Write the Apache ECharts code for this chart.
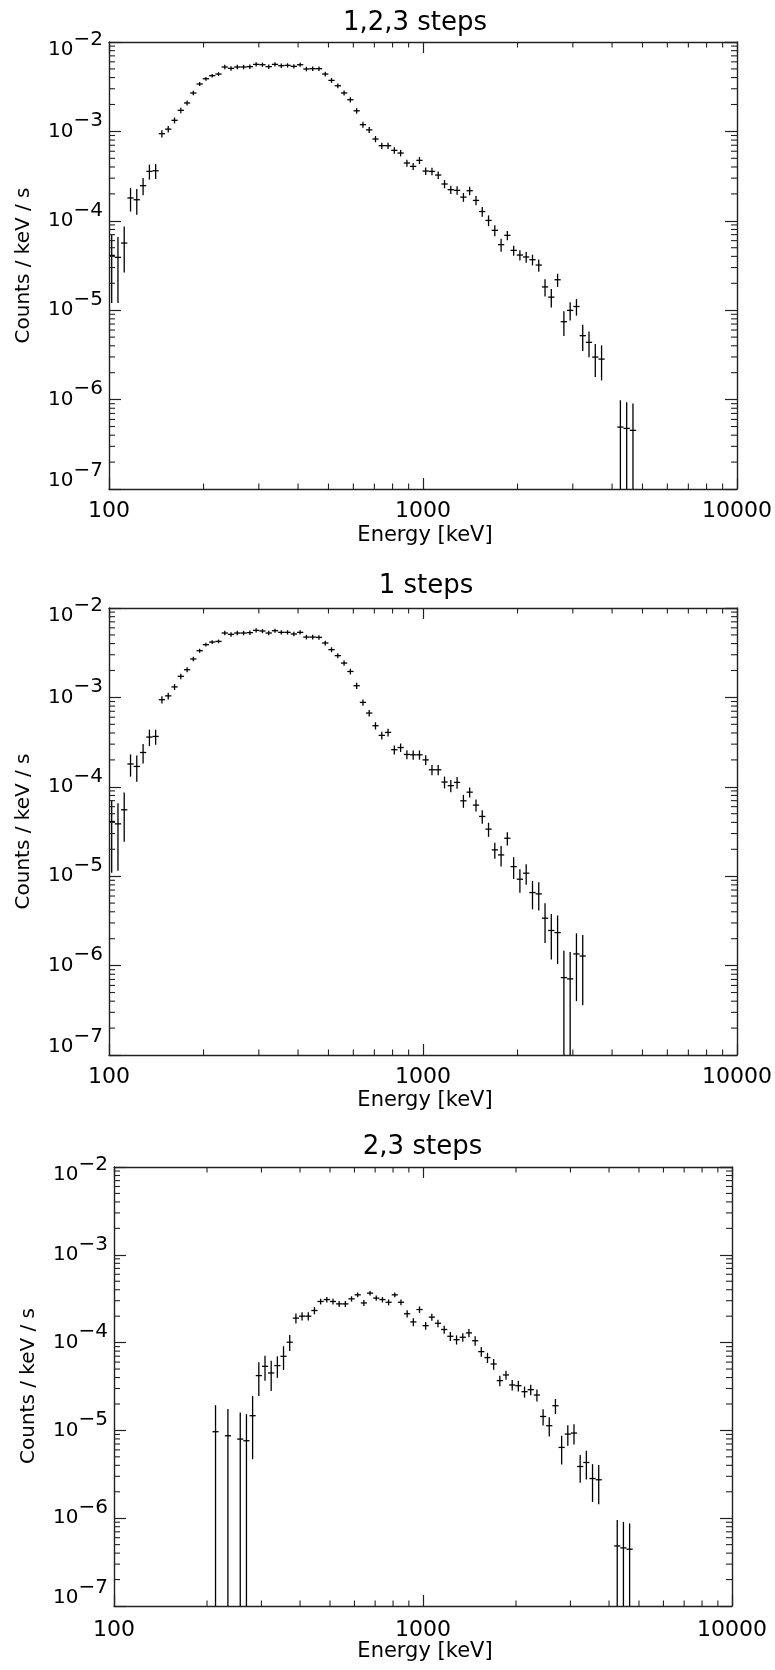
<!DOCTYPE html>
<html><head><meta charset="utf-8">
<script src="https://cdn.jsdelivr.net/npm/echarts@6/dist/echarts.min.js"></script>
<style>html,body{margin:0;padding:0;background:#fff}#c{width:775px;height:1670px}</style>
</head><body><div id="c"></div>
<script>
// ---------- data ----------
const energies = [
  102.0,106.8,111.8,117.1,122.6,128.4,134.5,140.8,147.4,154.4,
  161.7,169.3,177.3,185.6,194.4,203.5,213.1,223.2,233.7,244.7,
  256.2,268.3,280.9,294.2,308.1,322.6,337.8,353.7,370.4,387.9,
  406.1,425.3,445.3,466.3,488.3,511.3,535.4,560.6,587.1,614.7,
  643.7,674.0,705.8,739.1,773.9,810.4,848.6,888.6,930.5,974.4,
  1020,1068,1118,1171,1226,1284,1345,1408,1475,1544,
  1617,1693,1773,1856,1944,2035,2131,2232,2337,2447,
  2562,2683,2810,2942,3081,3226,3378,3537,3704,3878,
  4061,4252,4453,4663];
const titles = ['1,2,3 steps', '1 steps', '2,3 steps'];
const xAxisName = 'Energy [keV]';
const yAxisName = 'Counts / keV / s';
const xTickValues = [100, 1000, 10000];
const xTickLabels = ['100', '1000', '10000'];
const yExponents = [-7, -6, -5, -4, -3, -2];

const rate123 = [
  4.10e-5,3.90e-5,5.64e-5,1.80e-4,1.72e-4,2.47e-4,3.57e-4,3.63e-4,9.42e-4,1.06e-3,
  1.33e-3,1.72e-3,2.08e-3,2.69e-3,3.39e-3,3.88e-3,4.20e-3,4.38e-3,5.25e-3,5.07e-3,
  5.25e-3,5.25e-3,5.30e-3,5.62e-3,5.57e-3,5.30e-3,5.62e-3,5.43e-3,5.48e-3,5.34e-3,
  5.57e-3,4.99e-3,5.03e-3,5.03e-3,4.38e-3,3.72e-3,3.24e-3,2.69e-3,2.26e-3,1.70e-3,
  1.19e-3,1.04e-3,8.22e-4,6.92e-4,6.92e-4,6.14e-4,5.73e-4,4.43e-4,4.06e-4,4.74e-4,
  3.60e-4,3.57e-4,3.25e-4,2.58e-4,2.23e-4,2.19e-4,1.84e-4,2.17e-4,1.69e-4,1.27e-4,
  1.01e-4,7.82e-5,5.41e-5,6.87e-5,4.67e-5,4.14e-5,3.94e-5,3.67e-5,3.20e-5,1.82e-5,
  1.40e-5,2.19e-5,7.43e-6,9.95e-6,1.10e-5,5.19e-6,4.37e-6,2.99e-6,2.84e-6,null,
  null,4.93e-7,4.76e-7,4.53e-7];
const err123 = [
  2.9e-5,2.7e-5,3.0e-5,5.3e-5,5.5e-5,5.4e-5,6.8e-5,7.0e-5,9.0e-5,9.0e-5,
  1.0e-4,1.2e-4,1.3e-4,1.5e-4,1.7e-4,1.9e-4,2.0e-4,2.1e-4,3.0e-4,3.0e-4,
  3.0e-4,3.0e-4,3.0e-4,3.0e-4,3.0e-4,3.0e-4,3.0e-4,3.0e-4,3.0e-4,3.0e-4,
  3.0e-4,2.9e-4,2.9e-4,2.9e-4,2.6e-4,2.3e-4,2.0e-4,1.7e-4,1.5e-4,1.2e-4,
  9.0e-5,8.0e-5,6.5e-5,5.5e-5,5.5e-5,5.0e-5,4.8e-5,4.0e-5,3.7e-5,4.2e-5,
  3.4e-5,3.4e-5,3.2e-5,2.7e-5,2.4e-5,2.4e-5,2.1e-5,2.4e-5,2.0e-5,1.6e-5,
  1.4e-5,1.1e-5,9.0e-6,8.0e-6,6.0e-6,5.5e-6,5.5e-6,5.0e-6,5.0e-6,4.0e-6,
  3.3e-6,3.7e-6,2.3e-6,2.3e-6,2.3e-6,1.7e-6,1.4e-6,1.2e-6,1.2e-6,null,
  null,4.9e-7,4.6e-7,4.5e-7];

const rate1 = [
  4.09e-5,3.85e-5,5.53e-5,1.80e-4,1.69e-4,2.42e-4,3.60e-4,3.66e-4,9.42e-4,1.04e-3,
  1.31e-3,1.72e-3,2.04e-3,2.69e-3,3.33e-3,3.89e-3,4.16e-3,4.23e-3,5.25e-3,5.07e-3,
  5.25e-3,5.25e-3,5.30e-3,5.62e-3,5.53e-3,5.25e-3,5.57e-3,5.34e-3,5.34e-3,5.12e-3,
  5.34e-3,4.73e-3,4.73e-3,4.69e-3,4.06e-3,3.42e-3,2.93e-3,2.42e-3,1.95e-3,1.35e-3,
  8.79e-4,6.68e-4,4.82e-4,3.76e-4,4.06e-4,2.60e-4,2.75e-4,2.30e-4,2.28e-4,2.28e-4,
  2.00e-4,1.55e-4,1.55e-4,1.13e-4,1.03e-4,1.12e-4,6.97e-5,8.71e-5,6.24e-5,4.66e-5,
  3.36e-5,1.97e-5,1.73e-5,2.66e-5,1.28e-5,9.25e-6,1.08e-5,6.56e-6,6.34e-6,3.39e-6,
  2.47e-6,2.34e-6,7.34e-7,7.10e-7,1.35e-6,1.28e-6,null,null,null,null,
  null,null,null,null];
const err1 = [
  3.0e-5,2.7e-5,3.1e-5,5.0e-5,5.5e-5,6.0e-5,7.5e-5,7.0e-5,9.0e-5,9.0e-5,
  1.0e-4,1.2e-4,1.3e-4,1.5e-4,1.7e-4,1.9e-4,2.0e-4,2.0e-4,3.0e-4,3.0e-4,
  3.0e-4,3.0e-4,3.0e-4,3.0e-4,3.0e-4,3.0e-4,3.0e-4,3.0e-4,3.0e-4,3.0e-4,
  3.0e-4,2.8e-4,2.8e-4,2.8e-4,2.5e-4,2.2e-4,1.9e-4,1.6e-4,1.4e-4,1.1e-4,
  7.0e-5,5.5e-5,4.5e-5,3.8e-5,4.0e-5,3.0e-5,3.0e-5,2.7e-5,2.7e-5,2.7e-5,
  2.5e-5,2.0e-5,2.0e-5,1.7e-5,1.6e-5,1.7e-5,1.15e-5,1.1e-5,9.5e-6,8.0e-6,
  6.0e-6,4.0e-6,4.5e-6,4.5e-6,3.5e-6,2.7e-6,2.8e-6,2.3e-6,2.2e-6,1.6e-6,
  1.3e-6,1.3e-6,7.3e-7,7.1e-7,9.5e-7,9.2e-7,null,null,null,null,
  null,null,null,null];

const rate23 = [
  null,null,null,null,null,null,null,null,null,null,
  null,null,null,null,null,null,9.66e-6,null,8.69e-6,null,
  7.96e-6,7.62e-6,1.47e-5,4.21e-5,5.37e-5,4.51e-5,5.47e-5,6.98e-5,1.01e-4,1.90e-4,
  2.00e-4,2.00e-4,2.32e-4,2.94e-4,3.09e-4,2.94e-4,2.76e-4,2.76e-4,3.15e-4,3.50e-4,
  2.83e-4,3.66e-4,3.21e-4,3.09e-4,2.88e-4,3.50e-4,2.88e-4,2.13e-4,1.72e-4,2.38e-4,
  1.56e-4,1.95e-4,1.66e-4,1.41e-4,1.18e-4,1.08e-4,1.15e-4,1.29e-4,1.05e-4,7.89e-5,
  6.75e-5,5.71e-5,3.69e-5,4.28e-5,3.29e-5,3.23e-5,2.76e-5,2.91e-5,2.53e-5,1.44e-5,
  1.13e-5,1.91e-5,6.40e-6,9.08e-6,9.33e-6,3.88e-6,4.31e-6,2.83e-6,2.74e-6,null,
  null,4.83e-7,4.59e-7,4.43e-7];
const err23 = [
  null,null,null,null,null,null,null,null,null,null,
  null,null,null,null,null,null,9.7e-6,null,8.8e-6,null,
  8.0e-6,7.7e-6,1.0e-5,1.75e-5,1.7e-5,1.7e-5,1.5e-5,2.1e-5,2.1e-5,2.5e-5,
  2.2e-5,2.2e-5,2.2e-5,2.2e-5,2.2e-5,2.2e-5,2.2e-5,2.2e-5,2.2e-5,2.2e-5,
  2.2e-5,2.2e-5,2.2e-5,2.2e-5,2.2e-5,2.2e-5,2.2e-5,2.0e-5,1.8e-5,2.0e-5,
  1.6e-5,1.8e-5,1.6e-5,1.5e-5,1.4e-5,1.3e-5,1.3e-5,1.4e-5,1.3e-5,1.0e-5,
  9.0e-6,8.0e-6,5.0e-6,5.0e-6,4.5e-6,4.5e-6,4.0e-6,4.0e-6,4.0e-6,3.0e-6,
  2.8e-6,3.7e-6,2.3e-6,2.4e-6,2.4e-6,1.35e-6,1.55e-6,1.3e-6,1.3e-6,null,
  null,4.7e-7,4.5e-7,4.3e-7];

// ---------- layout / style ----------
const xRange = [xTickValues[0], xTickValues[xTickValues.length - 1]];
const yRange = [Math.pow(10, yExponents[0]), Math.pow(10, yExponents[yExponents.length - 1])];
const HALF_BIN_DEX = 0.01;
const FONT = '"DejaVu Sans", sans-serif';
const INK = '#000';
const FRAME = '#222';
const MAJOR_X = 11, MINOR_X = 5.5, MAJOR_Y = 12, MINOR_Y = 6;

const panels = [
  {title: titles[0], rate: rate123, err: err123,
   grid: {left: 109, top: 42, width: 629, height: 447},
   titleXY: [415, 23], xNameXY: [425, 536], yNameXY: [23.5, 265.5], xLabelMargin: 11},
  {title: titles[1], rate: rate1, err: err1,
   grid: {left: 109, top: 608, width: 629, height: 447},
   titleXY: [426, 586], xNameXY: [425, 1101], yNameXY: [23.5, 831.5], xLabelMargin: 11},
  {title: titles[2], rate: rate23, err: err23,
   grid: {left: 114, top: 1167, width: 618, height: 439},
   titleXY: [422.5, 1147.5], xNameXY: [425, 1652], yNameXY: [28.5, 1386], xLabelMargin: 13}
];

// minor tick positions (2..9 x decade)
const xMinor = [], yMinor = [];
for (let d = Math.log10(xRange[0]); d < Math.log10(xRange[1]); d++)
  for (let m = 2; m <= 9; m++) xMinor.push(m * Math.pow(10, d));
for (let d = yExponents[0]; d < yExponents[yExponents.length - 1]; d++)
  for (let m = 2; m <= 9; m++) yMinor.push(m * Math.pow(10, d));

function seg(x1, y1, x2, y2, w) {
  return {type: 'line', shape: {x1, y1, x2, y2}, style: {stroke: INK, lineWidth: w || 1.2}};
}
function errRender(params, api) {
  const e = api.value(0), v = api.value(1), s = api.value(2);
  const lo = Math.max(v - s, yRange[0]);
  const hi = Math.min(v + s, yRange[1]);
  const f = Math.pow(10, HALF_BIN_DEX);
  const pL = api.coord([e / f, v]), pR = api.coord([e * f, v]);
  const pT = api.coord([e, hi]), pB = api.coord([e, lo]);
  return {type: 'group', children: [
    seg(pL[0], pL[1], pR[0], pR[1], 1.3),
    seg(pT[0], pT[1], pB[0], pB[1], 1.3)
  ]};
}
function minorRender(params, api) {
  const kind = api.value(2);
  const style = {stroke: FRAME, lineWidth: 1.1};
  if (kind === 0) {
    const v = api.value(0);
    const b = api.coord([v, yRange[0]]), t = api.coord([v, yRange[1]]);
    return {type: 'group', children: [
      {type: 'line', shape: {x1: b[0], y1: b[1], x2: b[0], y2: b[1] - MINOR_X}, style},
      {type: 'line', shape: {x1: t[0], y1: t[1], x2: t[0], y2: t[1] + MINOR_X}, style}
    ]};
  }
  const v = api.value(1);
  const l = api.coord([xRange[0], v]), r = api.coord([xRange[1], v]);
  return {type: 'group', children: [
    {type: 'line', shape: {x1: l[0], y1: l[1], x2: l[0] + MINOR_Y, y2: l[1]}, style},
    {type: 'line', shape: {x1: r[0], y1: r[1], x2: r[0] - MINOR_Y, y2: r[1]}, style}
  ]};
}

const yMinExp = yExponents[0], yMaxExp = yExponents[yExponents.length - 1];
function yLabel(value) {
  const k = Math.round(Math.log10(value));
  const sup = '\u2212' + Math.abs(k);
  if (k === yMaxExp) return '{bt|10}{st|' + sup + '}';
  if (k === yMinExp) return '{bb|10}{sb|' + sup + '}';
  return '{b|10}{s|' + sup + '}';
}
const tok = (padT, lh) => ({fontFamily: FONT, fontSize: 20, lineHeight: lh, color: INK,
  padding: [padT, 0, 0, 0], verticalAlign: 'top'});
const yRich = {
  b: tok(10.5, 41), s: tok(0, 41),
  bt: tok(18.5, 41), st: tok(8, 41),
  bb: tok(10.5, 57), sb: tok(0, 57)
};

const grids = [], xAxes = [], yAxes = [], series = [], graphics = [];
panels.forEach((p, k) => {
  grids.push(Object.assign({containLabel: false}, p.grid));
  const axLine = {show: true, onZero: false, lineStyle: {color: FRAME, width: 1.4}};
  const xTick = {show: true, inside: true, length: MAJOR_X, lineStyle: {color: FRAME, width: 1.2}};
  const yTick = {show: true, inside: true, length: MAJOR_Y, lineStyle: {color: FRAME, width: 1.2}};
  xAxes.push({type: 'log', logBase: 10, gridIndex: k, position: 'bottom', min: xRange[0], max: xRange[1],
    axisLine: axLine, axisTick: xTick, splitLine: {show: false},
    axisLabel: {show: true, margin: p.xLabelMargin, fontFamily: FONT, fontSize: 22, lineHeight: 22, color: INK,
      showMinLabel: true, showMaxLabel: true, hideOverlap: false,
      formatter: (v) => { const i = xTickValues.findIndex(t => Math.abs(t - v) / t < 1e-6); return i >= 0 ? xTickLabels[i] : ''; }}});
  xAxes.push({type: 'log', logBase: 10, gridIndex: k, position: 'top', min: xRange[0], max: xRange[1],
    axisLine: axLine, axisTick: xTick, splitLine: {show: false}, axisLabel: {show: false}});
  yAxes.push({type: 'log', logBase: 10, gridIndex: k, position: 'left', min: yRange[0], max: yRange[1],
    axisLine: axLine, axisTick: yTick, splitLine: {show: false},
    axisLabel: {show: true, margin: 6, formatter: yLabel, rich: yRich, showMinLabel: true, showMaxLabel: true, hideOverlap: false}});
  yAxes.push({type: 'log', logBase: 10, gridIndex: k, position: 'right', min: yRange[0], max: yRange[1],
    axisLine: axLine, axisTick: yTick, splitLine: {show: false}, axisLabel: {show: false}});

  const pts = [];
  energies.forEach((e, i) => { if (p.rate[i] != null) pts.push([e, p.rate[i], p.err[i]]); });
  series.push({type: 'custom', name: p.title, xAxisIndex: 2 * k, yAxisIndex: 2 * k, data: pts,
    encode: {x: 0, y: 1}, renderItem: errRender, clip: true, silent: true, animation: false});
  const minorData = xMinor.map(v => [v, yRange[0], 0]).concat(yMinor.map(v => [xRange[0], v, 1]));
  series.push({type: 'custom', xAxisIndex: 2 * k, yAxisIndex: 2 * k, data: minorData,
    encode: {x: 0, y: 1}, renderItem: minorRender, clip: false, silent: true, animation: false});

  const txt = (x, y, text, size, rot) => ({type: 'text', x, y, rotation: rot || 0, silent: true,
    style: {text, font: size + 'px ' + FONT, fill: INK, align: 'center', verticalAlign: 'middle',
      textAlign: 'center', textVerticalAlign: 'middle'}});
  graphics.push(txt(p.titleXY[0], p.titleXY[1], p.title, 26));
  graphics.push(txt(p.xNameXY[0], p.xNameXY[1], xAxisName, 21));
  graphics.push(txt(p.yNameXY[0], p.yNameXY[1], yAxisName, 20, Math.PI / 2));
});

const chart = echarts.init(document.getElementById('c'), null, {renderer: 'canvas'});
chart.setOption({
  backgroundColor: '#fff',
  animation: false,
  grid: grids, xAxis: xAxes, yAxis: yAxes, series: series, graphic: graphics
});
</script></body></html>
